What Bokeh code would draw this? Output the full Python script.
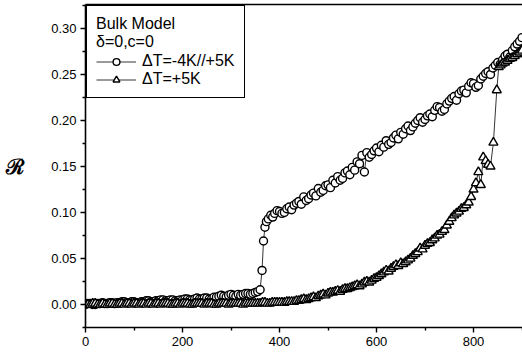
from bokeh.plotting import figure
from bokeh.models import Range1d, Legend, LegendItem, NumeralTickFormatter, FixedTicker, LinearAxis
from bokeh.embed import file_html
from bokeh.resources import INLINE

# Series 1: dT = -4K//+5K (circles)
c_x = [0, 5, 10, 15, 20, 25, 30, 35, 40, 45, 50, 55, 60, 65, 70, 75, 80, 85, 90, 95,
       100, 105, 110, 115, 120, 125, 130, 135, 140, 145, 150, 155, 160, 165, 170, 175, 180, 185, 190, 195,
       200, 205, 210, 215, 220, 225, 230, 235, 240, 245, 250, 255, 260, 265, 270, 275, 280, 285, 290, 295,
       300, 305, 310, 315, 320, 325, 330, 335, 340, 345, 350, 355, 360,
       364, 367, 370, 373, 377, 382, 386,
       390, 395, 400, 405, 410, 415, 420, 425, 430, 435, 440, 445, 450, 455, 460, 465, 470, 475, 480, 485, 490, 495,
       500, 505, 510, 515, 520, 525, 530, 535, 540, 545, 550, 555, 560, 565, 570, 575, 580, 585, 590, 595,
       600, 605, 610, 615, 620, 625, 630, 635, 640, 645, 650, 655, 660, 665, 670, 675, 680, 685, 690, 695,
       700, 705, 710, 715, 720, 725, 730, 735, 740, 745, 750, 755, 760, 765, 770, 775, 780, 785, 790, 795,
       800, 805, 810, 815, 820, 825, 830, 835, 840, 845, 850, 855, 860, 865, 870, 875, 880, 885, 890, 895, 900]
c_y = [0.000, 0.001, 0.001, 0.000, 0.000, 0.001, 0.001, 0.002, 0.001, 0.001, 0.002, 0.002, 0.001, 0.002, 0.002, 0.003, 0.003, 0.002, 0.002, 0.003,
       0.003, 0.002, 0.002, 0.003, 0.003, 0.004, 0.004, 0.003, 0.003, 0.004, 0.004, 0.005, 0.005, 0.004, 0.004, 0.005, 0.005, 0.004, 0.004, 0.005,
       0.005, 0.006, 0.006, 0.005, 0.005, 0.006, 0.007, 0.006, 0.006, 0.007, 0.007, 0.006, 0.006, 0.008, 0.008, 0.009, 0.010, 0.009, 0.008, 0.010,
       0.011, 0.010, 0.009, 0.011, 0.010, 0.011, 0.012, 0.012, 0.011, 0.012, 0.013, 0.014, 0.016,
       0.037, 0.069, 0.084, 0.090, 0.093, 0.097, 0.095,
       0.099, 0.102, 0.101, 0.099, 0.100, 0.104, 0.106, 0.103, 0.108, 0.110, 0.112, 0.109, 0.117, 0.113, 0.115, 0.119, 0.121, 0.118, 0.126, 0.122, 0.124, 0.129,
       0.130, 0.127, 0.135, 0.132, 0.139, 0.135, 0.137, 0.143, 0.145, 0.141, 0.149, 0.146, 0.155, 0.153, 0.162, 0.144, 0.165, 0.160, 0.163, 0.167,
       0.170, 0.166, 0.173, 0.171, 0.178, 0.174, 0.176, 0.181, 0.184, 0.180, 0.187, 0.185, 0.191, 0.194, 0.189, 0.193, 0.197, 0.200, 0.203, 0.198,
       0.201, 0.205, 0.207, 0.204, 0.211, 0.215, 0.214, 0.210, 0.212, 0.218, 0.221, 0.224, 0.226, 0.222, 0.229, 0.232, 0.233, 0.230, 0.237, 0.241,
       0.240, 0.236, 0.238, 0.245, 0.248, 0.251, 0.253, 0.250, 0.257, 0.260, 0.263, 0.261, 0.266, 0.270, 0.272, 0.269, 0.276, 0.280, 0.283, 0.286, 0.290]

# Series 2: dT = +5K (triangles)
t_x = [0, 5, 10, 15, 20, 25, 30, 35, 40, 45, 50, 55, 60, 65, 70, 75, 80, 85, 90, 95,
       100, 105, 110, 115, 120, 125, 130, 135, 140, 145, 150, 155, 160, 165, 170, 175, 180, 185, 190, 195,
       200, 205, 210, 215, 220, 225, 230, 235, 240, 245, 250, 255, 260, 265, 270, 275, 280, 285, 290, 295,
       300, 305, 310, 315, 320, 325, 330, 335, 340, 345, 350, 355, 360, 365, 370, 375, 380, 385, 390, 395,
       400, 405, 410, 415, 420, 425, 430, 435, 440, 445, 450, 455, 460, 465, 470, 475, 480, 485, 490, 495,
       500, 505, 510, 515, 520, 525, 530, 535, 540, 545, 550, 555, 560, 565, 570, 575, 580, 585, 590, 595,
       600, 605, 610, 615, 620, 625, 630, 635, 640, 645, 650, 655, 660, 665, 670, 675, 680, 685, 690, 695,
       700, 705, 710, 715, 720, 725, 730, 735, 740, 745, 750, 755, 760, 765, 770, 775, 780, 785, 790, 795,
       800, 805, 810, 815, 820, 825, 830, 835, 841, 848, 852, 856, 860, 865, 870, 875, 880, 885, 890, 895, 900]
t_y = [0.000, 0.000, 0.000, 0.001, 0.001, 0.000, 0.000, 0.001, 0.000, 0.000, 0.001, 0.001, 0.000, 0.000, 0.001, 0.001, 0.000, 0.001, 0.001, 0.000,
       0.001, 0.001, 0.000, 0.001, 0.001, 0.000, 0.001, 0.001, 0.000, 0.001, 0.001, 0.000, 0.001, 0.001, 0.001, 0.000, 0.000, 0.001, 0.001, 0.000,
       0.001, 0.001, 0.001, 0.000, 0.000, 0.001, 0.001, 0.001, 0.001, 0.000, 0.001, 0.001, 0.001, 0.000, 0.000, 0.001, 0.001, 0.001, 0.001, 0.000,
       0.001, 0.001, 0.001, 0.001, 0.001, 0.000, 0.001, 0.001, 0.001, 0.001, 0.001, 0.001, 0.001, 0.002, 0.002, 0.001, 0.001, 0.002, 0.002, 0.002,
       0.002, 0.002, 0.002, 0.003, 0.003, 0.003, 0.003, 0.004, 0.004, 0.005, 0.006, 0.005, 0.006, 0.007, 0.008, 0.007, 0.009, 0.010, 0.011, 0.010,
       0.012, 0.013, 0.013, 0.014, 0.015, 0.014, 0.016, 0.017, 0.017, 0.018, 0.019, 0.020, 0.021, 0.020, 0.022, 0.024, 0.025, 0.024, 0.026, 0.028,
       0.029, 0.031, 0.033, 0.035, 0.037, 0.036, 0.039, 0.041, 0.043, 0.042, 0.045, 0.044, 0.046, 0.048, 0.050, 0.053, 0.055, 0.057, 0.061, 0.060,
       0.064, 0.066, 0.067, 0.070, 0.072, 0.075, 0.076, 0.079, 0.081, 0.086, 0.090, 0.094, 0.097, 0.099, 0.101, 0.104, 0.105, 0.108, 0.111, 0.117,
       0.125, 0.132, 0.144, 0.130, 0.160, 0.156, 0.152, 0.150, 0.176, 0.233, 0.258, 0.260, 0.262, 0.263, 0.265, 0.267, 0.268, 0.270, 0.272, 0.274, 0.276]

x_ticks = [0, 200, 400, 600, 800]
x_minor = [100, 300, 500, 700, 900]
y_ticks = [0.00, 0.05, 0.10, 0.15, 0.20, 0.25, 0.30]
y_minor = [-0.025, 0.025, 0.075, 0.125, 0.175, 0.225, 0.275, 0.325]

legend_title = "Bulk Model\nδ=0,c=0"
label_1 = "ΔT=-4K//+5K"
label_2 = "ΔT=+5K"

p = figure(width=522, height=354, output_backend="svg", toolbar_location=None,
           x_range=Range1d(0, 901), y_range=Range1d(-0.025, 0.326),
           min_border_left=85, min_border_right=0, min_border_top=4, min_border_bottom=27)
p.background_fill_color = "white"
p.border_fill_color = "white"
p.xgrid.visible = False
p.ygrid.visible = False
p.outline_line_color = None

FONT = "Liberation Sans"
for ax in (p.xaxis[0], p.yaxis[0]):
    ax.axis_line_width = 1.6
    ax.axis_line_color = "black"
    ax.major_tick_line_color = "black"
    ax.minor_tick_line_color = "black"
    ax.major_tick_line_width = 1.4
    ax.minor_tick_line_width = 1.4
    ax.major_tick_in = 0
    ax.major_tick_out = 5
    ax.minor_tick_in = 0
    ax.minor_tick_out = 3
    ax.major_label_text_font = FONT
    ax.major_label_text_font_size = "13px"
    ax.major_label_text_color = "black"

p.xaxis[0].ticker = FixedTicker(ticks=x_ticks, minor_ticks=x_minor)
p.yaxis[0].ticker = FixedTicker(ticks=y_ticks, minor_ticks=y_minor)
p.yaxis[0].formatter = NumeralTickFormatter(format="0.00")
p.xaxis[0].major_label_standoff = 4
p.yaxis[0].major_label_standoff = 4

p.yaxis[0].axis_label = "ℛ"
p.yaxis[0].axis_label_orientation = "horizontal"
p.yaxis[0].axis_label_text_font = "DejaVu Serif"
p.yaxis[0].axis_label_text_font_style = "bold"
p.yaxis[0].axis_label_text_font_size = "21px"
p.yaxis[0].axis_label_standoff = 24
p.yaxis[0].axis_label_text_color = "black"

top_axis = LinearAxis(ticker=FixedTicker(ticks=[]), axis_line_width=1.6, axis_line_color="black",
                      major_tick_out=0, major_tick_in=0, minor_tick_out=0, minor_tick_in=0,
                      major_label_text_font_size="0px")
p.add_layout(top_axis, "above")

r1l = p.line(c_x, c_y, line_color="black", line_width=0.8)
r1m = p.scatter(c_x, c_y, marker="circle", size=8, fill_color="white",
                line_color="black", line_width=1.4)
r2l = p.line(t_x, t_y, line_color="black", line_width=0.8)
r2m = p.scatter(t_x, t_y, marker="triangle", size=9, fill_color="white",
                line_color="black", line_width=1.4)

legend = Legend(items=[LegendItem(label=label_1, renderers=[r1l, r1m]),
                       LegendItem(label=label_2, renderers=[r2l, r2m])],
                title=legend_title, location="top_left")
legend.title_text_font = FONT
legend.title_text_font_size = "16px"
legend.title_text_font_style = "normal"
legend.title_text_color = "black"
legend.title_standoff = 1
legend.label_text_font = FONT
legend.label_text_font_size = "16px"
legend.label_text_color = "black"
legend.border_line_color = "black"
legend.border_line_width = 1.6
legend.border_line_alpha = 1
legend.background_fill_alpha = 1
legend.margin = 1
legend.padding = 9
legend.spacing = 0
legend.glyph_width = 40
legend.glyph_height = 17
legend.label_height = 17
legend.label_standoff = 6
p.add_layout(legend)

open("out.html", "w").write(file_html(p, INLINE))
